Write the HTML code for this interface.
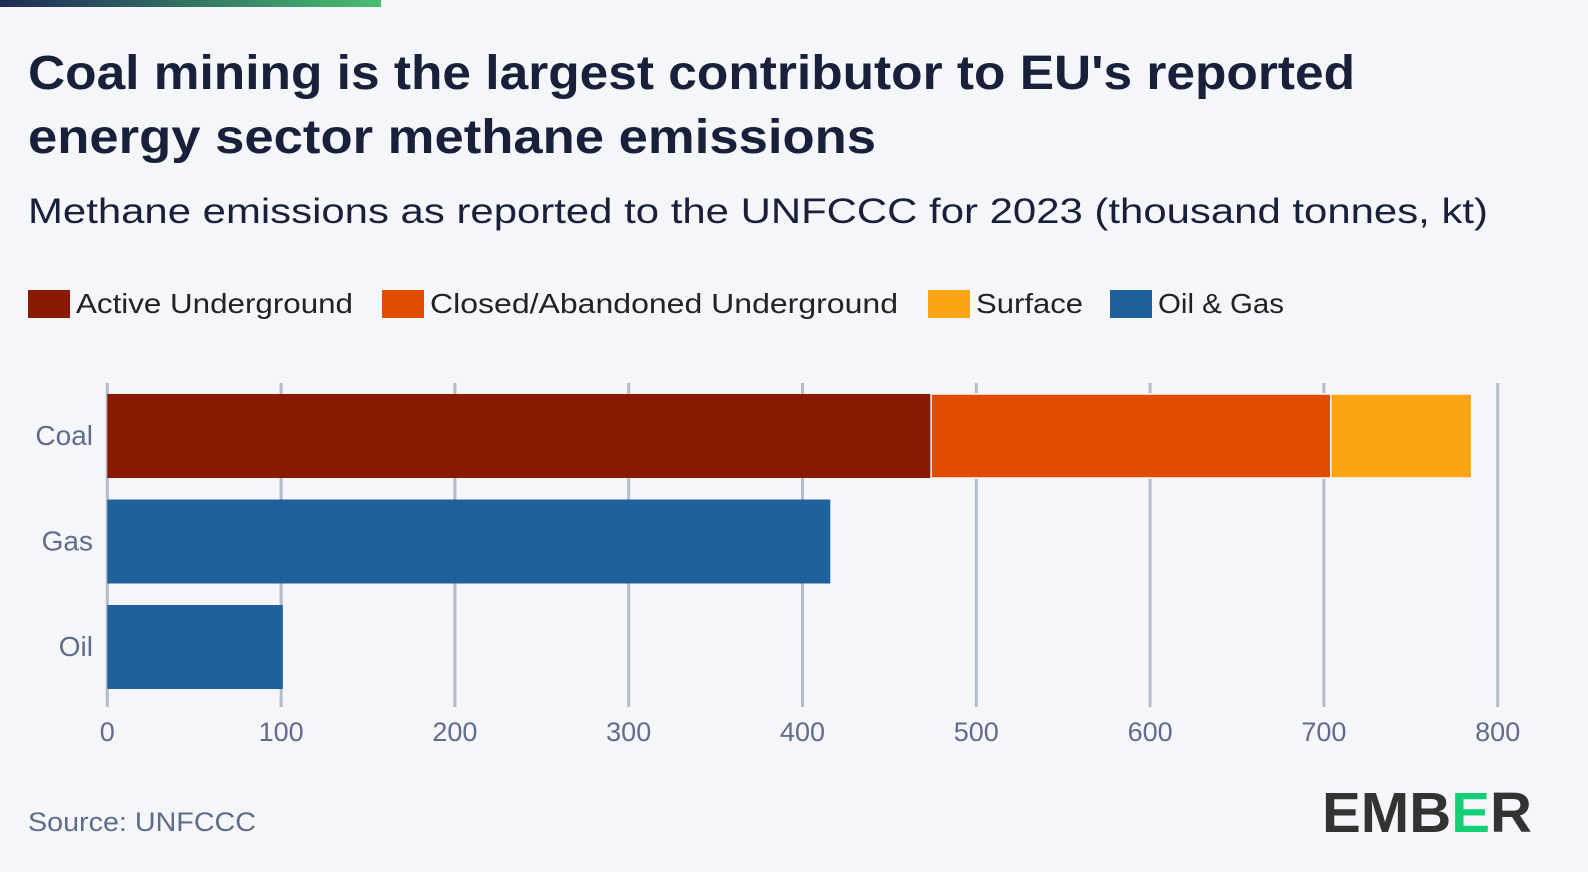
<!DOCTYPE html>
<html><head><meta charset="utf-8"><style>
html,body{margin:0;padding:0;background:#f5f6fa;}
svg{display:block;font-family:"Liberation Sans",sans-serif;}
</style></head><body>
<svg id="chart" width="1588" height="872" viewBox="0 0 1588 872" xmlns="http://www.w3.org/2000/svg">
<defs><linearGradient id="tg" x1="0" x2="1"><stop offset="0" stop-color="#1f2a57"/><stop offset="1" stop-color="#48be70"/></linearGradient></defs>
<rect width="1588" height="872" fill="#f5f6fa"/>
<rect x="0" y="0" width="381" height="7" fill="url(#tg)"/>
<text x="28" y="89" font-size="48" font-weight="bold" fill="#18203a" textLength="1327" lengthAdjust="spacingAndGlyphs">Coal mining is the largest contributor to EU's reported</text>
<text x="28" y="153" font-size="48" font-weight="bold" fill="#18203a" textLength="848" lengthAdjust="spacingAndGlyphs">energy sector methane emissions</text>
<text x="28" y="223" font-size="35" fill="#18203a" textLength="1460" lengthAdjust="spacingAndGlyphs">Methane emissions as reported to the UNFCCC for 2023 (thousand tonnes, kt)</text>
<g id="legend"></g>
<g id="grid"></g>
<g id="bars"></g>
<g id="ylabels"></g>
<g id="xlabels"></g>
<text x="28" y="831" font-size="27" fill="#5f6c8a" textLength="228" lengthAdjust="spacingAndGlyphs">Source: UNFCCC</text>
<g font-size="57" font-weight="bold" fill="#333">
<text x="1322" y="832" textLength="210" lengthAdjust="spacingAndGlyphs">EMB<tspan fill="#14cf74">E</tspan>R</text>
</g>
</svg>
<script>
const categories = ["Coal","Gas","Oil"];
const seriesNames = ["Active Underground","Closed/Abandoned Underground","Surface","Oil & Gas"];
const seriesColors = ["#8a1a04","#e04c00","#fca514","#1f619c"];
const activeUnderground = [474, 0, 0];
const closedAbandoned = [230, 0, 0];
const surface = [81, 0, 0];
const oilGas = [0, 416, 101];
const xTicks = [0,100,200,300,400,500,600,700,800];

const NS = "http://www.w3.org/2000/svg";
const x0 = 107.3, pxPer = 1.738;
const xScale = v => x0 + v * pxPer;
const rowTop = [394, 499.5, 605], barH = 84;
const yScale = i => rowTop[0] + i * 105.5;
function mk(tag, attrs, parent){const e=document.createElementNS(NS,tag);for(const k in attrs)e.setAttribute(k,attrs[k]);parent.appendChild(e);return e;}

const grid = document.getElementById("grid"), xl = document.getElementById("xlabels");
xTicks.forEach(t=>{
  const l = mk("line",{x1:xScale(t),x2:xScale(t),y1:383,y2:707,stroke:"#b4bccc","stroke-width":3},grid);
  
  
  const tx = mk("text",{x:xScale(t),y:741,"font-size":27,fill:"#5f6c8a","text-anchor":"middle"},xl);
  tx.textContent = t;
  
  
});

const bars = document.getElementById("bars");
const series = [activeUnderground, closedAbandoned, surface, oilGas];
categories.forEach((c,i)=>{
  let acc = 0;
  series.forEach((s,si)=>{
    const v = s[i]; if(!v) return;
    const r = mk("rect",{x:xScale(acc),y:yScale(i),width:v*pxPer,height:barH,fill:seriesColors[si],stroke:"#f5f6fa","stroke-width":acc>0?1.5:0},bars);
    
    
    acc += v;
  });
  const t = mk("text",{x:93,y:yScale(i)+barH/2+9,"font-size":28,fill:"#5f6c8a","text-anchor":"end"},document.getElementById("ylabels"));
  t.textContent = c;
  
  
});

const lg = document.getElementById("legend");
const legX = [28, 382, 928, 1110];
const legW = [277, 468, 107, 126];
seriesNames.forEach((n,i)=>{
  const g = mk("g",{},lg);
  
  
  mk("rect",{x:legX[i],y:290,width:42,height:28,fill:seriesColors[i]},g);
  const t = mk("text",{x:legX[i]+48,y:313,"font-size":28,fill:"#222",textLength:legW[i],lengthAdjust:"spacingAndGlyphs"},g);
  t.textContent = n;
});
</script>
</body></html>
